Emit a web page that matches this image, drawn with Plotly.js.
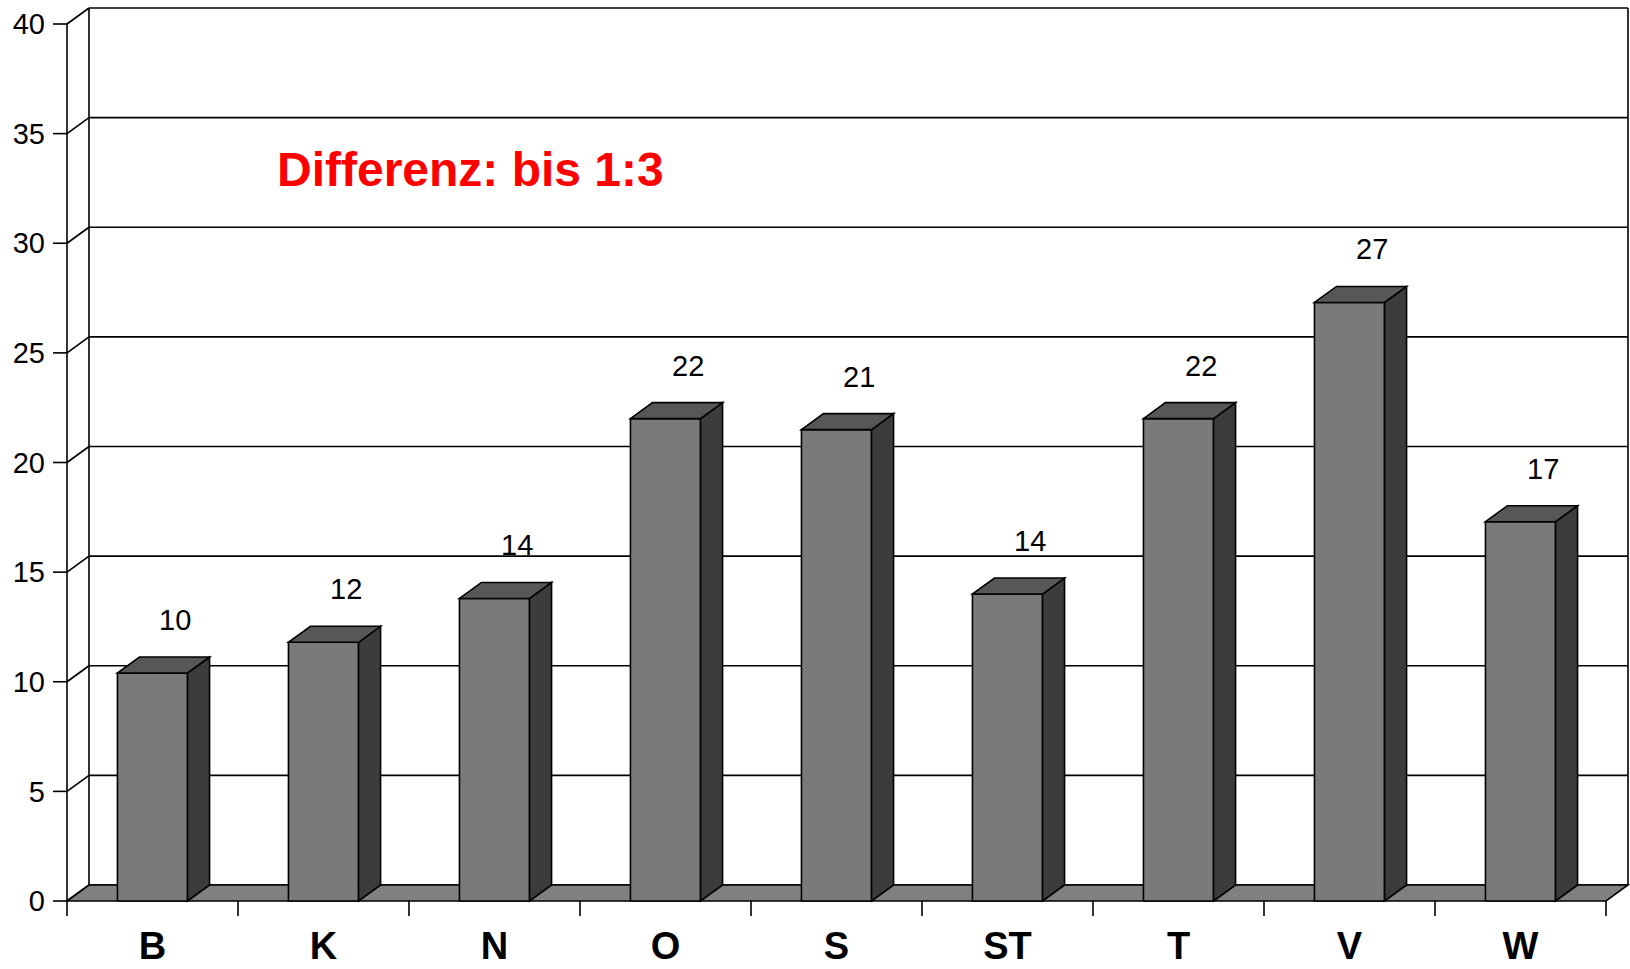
<!DOCTYPE html>
<html>
<head>
<meta charset="utf-8">
<script src="https://cdn.plot.ly/plotly-3.0.1.min.js"></script>
<style>html,body{margin:0;padding:0;background:#fff;}#chart{width:1630px;height:969px;}</style>
</head>
<body>
<div id="chart"></div>
<script>
// ---- data ----
const categories = ['B', 'K', 'N', 'O', 'S', 'ST', 'T', 'V', 'W'];
const values = [10.4, 11.8, 13.8, 22.0, 21.5, 14.0, 22.0, 27.3, 17.3];
const valueLabels = ['10', '12', '14', '22', '21', '14', '22', '27', '17'];
const yTickVals = [0, 5, 10, 15, 20, 25, 30, 35, 40];
const chartTitle = 'Differenz: bis 1:3';

// ---- geometry (pixels) ----
const W = 1630, H = 969;
const ML = 50, MR = 0, MT = 0, MB = 51;
const FRONT_LEFT_PX = 67;      // pixel x of front-left corner
const ZERO_PX = 901;           // pixel y of front zero
const CAT_PX = 171;            // width of one category
const UNIT_PX = 21.925;        // pixels per value unit
const DX = 22, DY = 16;        // depth offset (px)
const YTICK_LEN = 14, XTICK_LEN = 15;
const BAR_W = 0.41;

const plotW = W - ML - MR, plotH = H - MT - MB;
const x0 = -0.5 - (FRONT_LEFT_PX - ML) / CAT_PX;
const xRange = [x0, x0 + plotW / CAT_PX];
const yRange = [-(MT + plotH - ZERO_PX) / UNIT_PX, (ZERO_PX - MT) / UNIT_PX];
const dxU = DX / CAT_PX, dyU = DY / UNIT_PX;
const n = categories.length;
const xL = -0.5, xR = n - 0.5;
const yMax = yTickVals[yTickVals.length - 1];

const FRONT = '#7a7a7a', TOP = '#575757', SIDE = '#3c3c3c', FLOOR = '#808080';
const LW = 1.6;

const shapes = [];
function line(xa, ya, xb, yb, layer) {
  shapes.push({type: 'line', xref: 'x', yref: 'y', x0: xa, y0: ya, x1: xb, y1: yb,
    line: {color: '#000', width: LW}, layer: layer || 'below'});
}
function poly(pts, fill, layer) {
  const d = pts.map((p, i) => (i ? 'L' : 'M') + p[0] + ',' + p[1]).join(' ') + ' Z';
  shapes.push({type: 'path', xref: 'x', yref: 'y', path: d, fillcolor: fill,
    line: {color: '#000', width: LW}, layer: layer || 'below'});
}

// back wall gridlines + left side wall diagonals
yTickVals.forEach(t => {
  line(xL + dxU, t + dyU, xR + dxU, t + dyU);
  line(xL, t, xL + dxU, t + dyU);
});
line(xL + dxU, dyU, xL + dxU, yMax + dyU);   // back-left edge
line(xR + dxU, dyU, xR + dxU, yMax + dyU);   // back-right edge
// floor
poly([[xL, 0], [xR, 0], [xR + dxU, dyU], [xL + dxU, dyU]], FLOOR);
// front y axis line and ticks
line(xL, 0, xL, yMax, 'above');
yTickVals.forEach(t => line(xL - YTICK_LEN / CAT_PX, t, xL, t, 'above'));
// x boundary ticks
for (let b = 0; b <= n; b++) {
  line(xL + b, 0, xL + b, -XTICK_LEN / UNIT_PX, 'above');
}
// bar sides and tops
values.forEach((v, i) => {
  const l = i - BAR_W / 2, r = i + BAR_W / 2;
  poly([[r, 0], [r + dxU, dyU], [r + dxU, v + dyU], [r, v]], SIDE, 'above');
  poly([[l, v], [r, v], [r + dxU, v + dyU], [l + dxU, v + dyU]], TOP, 'above');
});

const annotations = values.map((v, i) => ({
  x: i + dxU, y: v + dyU, xref: 'x', yref: 'y', text: valueLabels[i],
  showarrow: false, yanchor: 'bottom', xanchor: 'center', yshift: 19,
  font: {family: 'Liberation Sans, Arial, sans-serif', size: 29, color: '#000'}
}));

const trace = {
  type: 'bar',
  x: categories.map((c, i) => i),
  y: values,
  width: BAR_W,
  marker: {color: FRONT, line: {color: '#000', width: LW}},
  hoverinfo: 'skip',
  showlegend: false
};

const layout = {
  width: W, height: H,
  margin: {l: ML, r: MR, t: MT, b: MB, pad: 0},
  paper_bgcolor: '#fff', plot_bgcolor: '#fff',
  showlegend: false,
  title: {
    text: chartTitle, xref: 'paper', yref: 'container',
    x: (277 - ML) / plotW, xanchor: 'left', y: 1 - 169 / H, yanchor: 'middle',
    font: {family: 'Liberation Sans, Arial, sans-serif', size: 48, color: '#ff0000', weight: 'bold'}
  },
  xaxis: {
    range: xRange, tickmode: 'array', tickvals: categories.map((c, i) => i), ticktext: categories,
    ticks: '', showgrid: false, zeroline: false, showline: false, fixedrange: true,
    ticklabelstandoff: 2,
    tickfont: {family: 'Liberation Sans, Arial, sans-serif', size: 38, color: '#000', weight: 'bold'}
  },
  yaxis: {
    range: yRange, tickmode: 'array', tickvals: yTickVals,
    ticks: '', showgrid: false, zeroline: false, showline: false, fixedrange: true,
    ticklabelstandoff: 4,
    tickfont: {family: 'Liberation Sans, Arial, sans-serif', size: 29, color: '#000'}
  },
  shapes: shapes,
  annotations: annotations
};

Plotly.newPlot('chart', [trace], layout, {displayModeBar: false, staticPlot: true});
</script>
</body>
</html>
